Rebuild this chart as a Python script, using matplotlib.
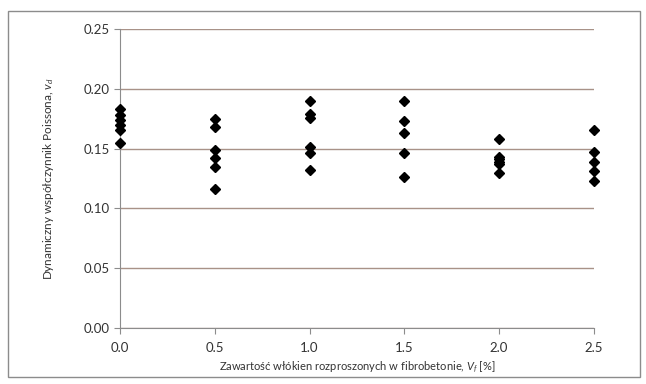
import matplotlib
matplotlib.use("Agg")
import matplotlib.pyplot as plt
from matplotlib.patches import Rectangle

plt.rcParams['font.family'] = ['Lato', 'DejaVu Sans']
plt.rcParams['mathtext.fontset'] = 'custom'
plt.rcParams['mathtext.it'] = 'Lato:italic'
plt.rcParams['mathtext.rm'] = 'Lato'

# fibre content [%] and measured dynamic Poisson's ratio
x_00 = [0.0] * 6
v_00 = [0.183, 0.178, 0.174, 0.170, 0.166, 0.155]
x_05 = [0.5] * 6
v_05 = [0.175, 0.168, 0.149, 0.142, 0.135, 0.116]
x_10 = [1.0] * 6
v_10 = [0.190, 0.179, 0.176, 0.151, 0.146, 0.132]
x_15 = [1.5] * 5
v_15 = [0.190, 0.173, 0.163, 0.146, 0.126]
x_20 = [2.0] * 6
v_20 = [0.158, 0.143, 0.141, 0.139, 0.137, 0.130]
x_25 = [2.5] * 5
v_25 = [0.166, 0.147, 0.139, 0.131, 0.123]

xticks = [0.0, 0.5, 1.0, 1.5, 2.0, 2.5]
yticks = [0.00, 0.05, 0.10, 0.15, 0.20, 0.25]

fig = plt.figure(figsize=(6.46, 3.84), dpi=100)
ax = fig.add_axes([0.186, 0.146, 0.733, 0.778])

# outer chart frame
fig.patches.append(Rectangle((8 / 646, 7 / 384), 632 / 646, 366 / 384,
                             transform=fig.transFigure, fill=False,
                             edgecolor='#8c8c8c', linewidth=1.0))

for xs, vs in [(x_00, v_00), (x_05, v_05), (x_10, v_10),
               (x_15, v_15), (x_20, v_20), (x_25, v_25)]:
    ax.plot(xs, vs, linestyle='none', marker='D', markersize=5.2,
            color='black', zorder=3, clip_on=False)

ax.set_xlim(0, 2.5)
ax.set_ylim(0, 0.25)
ax.set_xticks(xticks)
ax.set_yticks(yticks)
ax.set_xticklabels([f'{t:.1f}' for t in xticks])
ax.set_yticklabels([f'{t:.2f}' for t in yticks])

ax.grid(axis='y', color='#a89288', linewidth=1.0)
ax.set_axisbelow(True)
for s in ['top', 'right']:
    ax.spines[s].set_visible(False)
for s in ['left', 'bottom']:
    ax.spines[s].set_color('#8c8c8c')
ax.tick_params(axis='both', colors='#8c8c8c', labelcolor='#333333',
               labelsize=9.5, length=4, direction='out')
ax.tick_params(axis='x', pad=6)

ax.set_xlabel('Zawartość włókien rozproszonych w fibrobetonie, $V_f$ [%]',
              fontsize=8, color='#333333', labelpad=4)
ax.set_ylabel('Dynamiczny współczynnik Poissona, $v_d$',
              fontsize=8.5, color='#333333', labelpad=20)

fig.savefig('out.png', dpi=100, facecolor='white')
